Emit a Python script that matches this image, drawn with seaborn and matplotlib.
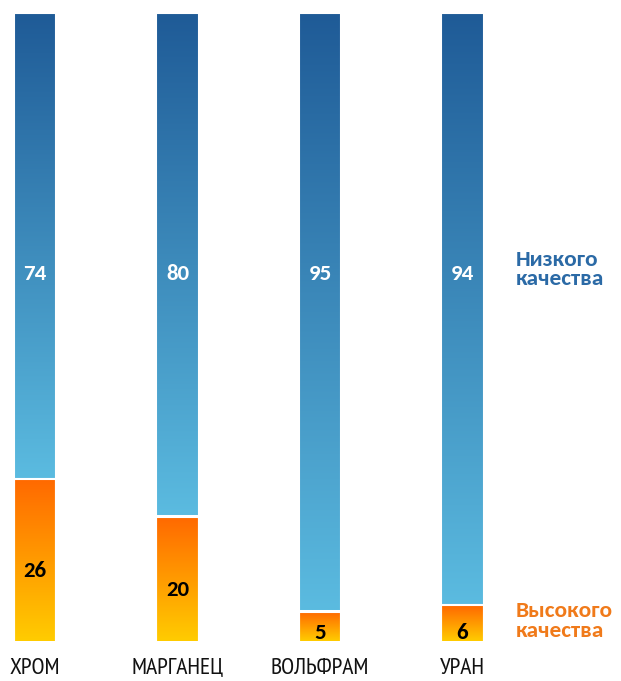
import numpy as np
import pandas as pd
import matplotlib
matplotlib.use("Agg")
import matplotlib.pyplot as plt
from matplotlib import font_manager
from matplotlib.colors import LinearSegmentedColormap
import seaborn as sns

metals = ["ХРОМ", "МАРГАНЕЦ", "ВОЛЬФРАМ", "УРАН"]
low_quality = [74, 80, 95, 94]
high_quality = [26, 20, 5, 6]
legend_low = "Низкого\nкачества"
legend_high = "Высокого\nкачества"

sns.set_theme(style="white")
plt.rcParams["font.family"] = ["DejaVu Sans"]

installed = {f.name for f in font_manager.fontManager.ttflist}
def first_installed(candidates):
    for c in candidates:
        if c in installed:
            return c
    return "DejaVu Sans"

narrow_family = first_installed(["PT Sans Narrow", "Roboto Condensed", "Fira Sans Condensed",
                                 "Sofia Sans Semi Condensed", "IBM Plex Sans Condensed",
                                 "Liberation Sans Narrow"])
bold_family = first_installed(["Carlito", "Open Sans", "Noto Sans", "Lato"])

df = pd.DataFrame({"metal": metals, "low": low_quality, "high": high_quality})
df["total"] = df["low"] + df["high"]

fig = plt.figure(figsize=(6.21, 6.81), dpi=100)
ax = fig.add_axes([0, 38 / 681, 1, 630 / 681])

# full-height bars (low quality on top), then high quality at the bottom
sns.barplot(data=df, x="metal", y="total", ax=ax, width=0.295,
            color="#3a86c0", saturation=1, edgecolor="white", linewidth=1.5)
n_total = len(ax.patches)
sns.barplot(data=df, x="metal", y="high", ax=ax, width=0.295,
            color="#ff9900", saturation=1, edgecolor="white", linewidth=1.5)

blue_cmap = LinearSegmentedColormap.from_list("blue", ["#5bbbe0", "#1f5b97"])
orange_cmap = LinearSegmentedColormap.from_list("orange", ["#ffcc00", "#ff6a00"])
grad = np.linspace(0, 1, 256).reshape(-1, 1)

for i, p in enumerate(ax.patches):
    x0, w = p.get_x(), p.get_width()
    if i < n_total:
        y0, y1 = df["high"].iloc[i], p.get_height()
        cmap = blue_cmap
    else:
        y0, y1 = 0, p.get_height()
        cmap = orange_cmap
    p.set_facecolor("none")
    ax.imshow(grad, cmap=cmap, aspect="auto", origin="lower",
              extent=(x0, x0 + w, y0 + 0.25, y1 - 0.25), zorder=1.5,
              interpolation="bilinear")
    p.set_zorder(2)

label_family = [bold_family, "DejaVu Sans"]
for i, (lo, hi) in enumerate(zip(low_quality, high_quality)):
    ax.text(i, 58.6, f"{lo}", ha="center", va="center", color="white",
            fontsize=16.5, fontweight="bold", family=label_family, zorder=3)
    ax.text(i, max(hi / 2 - 1.6, 1.6), f"{hi}", ha="center", va="center", color="black",
            fontsize=16.5, fontweight="bold", family=label_family, zorder=3)

ax.text(3.375, 59.3, legend_low, ha="left", va="center", color="#2b6aa6",
        fontsize=16.8, fontweight="bold", family=label_family, linespacing=0.95)
ax.text(3.375, 3.5, legend_high, ha="left", va="center", color="#f07a1a",
        fontsize=16.8, fontweight="bold", family=label_family, linespacing=0.95)

ax.set_xlim(-35 / 142.5, (621 - 35) / 142.5)
ax.set_ylim(0, 100)
ax.set_xlabel("")
ax.set_ylabel("")
ax.set_yticks([])
ax.tick_params(axis="x", length=0, pad=11)
for lab in ax.get_xticklabels():
    lab.set_color("#111111")
    lab.set_family([narrow_family, "DejaVu Sans"])
    lab.set_fontsize(17)
sns.despine(ax=ax, left=True, bottom=True)

fig.savefig("out.png", dpi=100)
